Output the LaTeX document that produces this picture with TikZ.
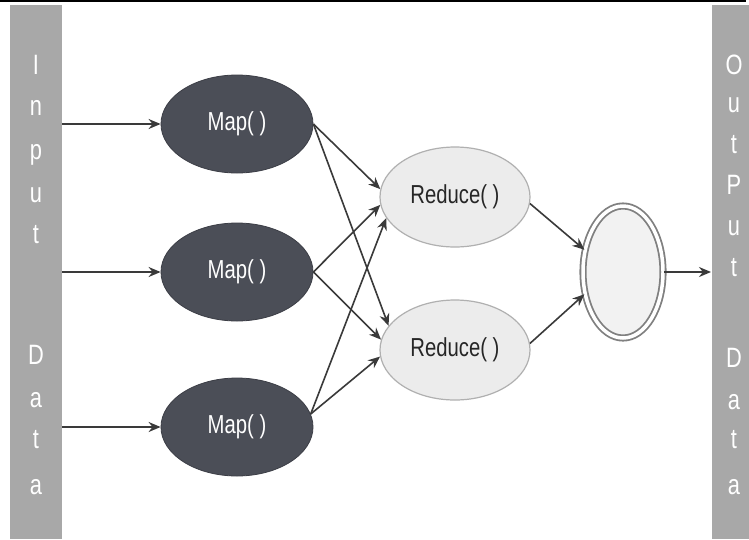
\documentclass[tikz,border=0pt]{standalone}
\usepackage{fontspec}
\setmainfont{Liberation Sans}
\newfontfamily\narrowfont[FakeStretch=0.78]{Liberation Sans}
\usetikzlibrary{shapes.geometric,arrows.meta}
\definecolor{mapfill}{HTML}{4B4E57}
\definecolor{redfill}{HTML}{ECECEC}
\definecolor{redline}{HTML}{B0B0B0}
\definecolor{barfill}{HTML}{A8A8A8}
\definecolor{arrowcol}{HTML}{3A3A3A}
\tikzset{
  mapnode/.style={ellipse, fill=mapfill, draw=mapfill!80!black, line width=0.8pt, minimum width=152pt, minimum height=98pt, inner sep=0pt, text=white, font=\narrowfont\fontsize{26}{26}\selectfont},
  rednode/.style={ellipse, fill=redfill, draw=redline, line width=1.2pt, minimum width=150pt, minimum height=100pt, inner sep=0pt, text=black!85, font=\narrowfont\fontsize{26}{26}\selectfont},
  endnode/.style={ellipse, fill=redfill!70!white, draw=black!50, line width=1.8pt, double=white, double distance=3.5pt, minimum width=80pt, minimum height=132pt, inner sep=0pt},
  conn/.style={draw=arrowcol, line width=1.6pt, -{Stealth[length=12pt,width=10pt]}},
  barletter/.style={text=white, font=\narrowfont\fontsize{28}{28}\selectfont, inner sep=0pt},
  barbox/.style={fill=barfill, draw=none}
}
\begin{document}
\begin{tikzpicture}[x=1pt,y=-1pt]
\useasboundingbox (0,0) rectangle (749,539);
\fill[white] (0,0) rectangle (749,539);
% bars
\path[barbox] (10,5) rectangle (62,539);
\path[barbox] (712,5) rectangle (749,539);
\fill[black] (0,0) rectangle (746,2);
% left bar letters
\foreach \ch/\yy [count=\i] in {I/65,n/108,p/155,u/195,t/235,D/355,a/400,t/440,a/487}
  \node[barletter] (inl\i) at (36,\yy) {\ch};
% right bar letters
\foreach \ch/\yy [count=\i] in {O/65,u/105,t/145,P/185,u/228,t/268,D/358,a/402,t/440,a/487}
  \node[barletter] (outl\i) at (734,\yy) {\ch};
% nodes
\node[mapnode] (m1) at (237,124) {Map( )};
\node[mapnode] (m2) at (237,272) {Map( )};
\node[mapnode] (m3) at (237,427) {Map( )};
\node[rednode] (r1) at (455,197) {Reduce( )};
\node[rednode] (r2) at (455,350) {Reduce( )};
\node[endnode] (res) at (623,272) {};
% free ends
\coordinate (i1) at (62,124);
\coordinate (i2) at (62,272);
\coordinate (i3) at (62,427);
\coordinate (o1) at (711,272);
% connectors
\draw[conn] (i1) -- (m1.west);
\draw[conn] (i2) -- (m2.west);
\draw[conn] (i3) -- (m3.west);
\draw[conn] (m1.east) -- (r1.174);
\draw[conn] (m1.east) -- (r2.160);
\draw[conn] (m2.east) -- (r1.186);
\draw[conn] (m2.east) -- (r2.172);
\draw[conn] (m3.10) -- (r1.197);
\draw[conn] (m3.10) -- (r2.185);
\draw[conn] (r1.-5) -- (res.150);
\draw[conn] (r2.5) -- (res.210);
\draw[conn] (res.east) -- (o1);
\end{tikzpicture}
\end{document}
